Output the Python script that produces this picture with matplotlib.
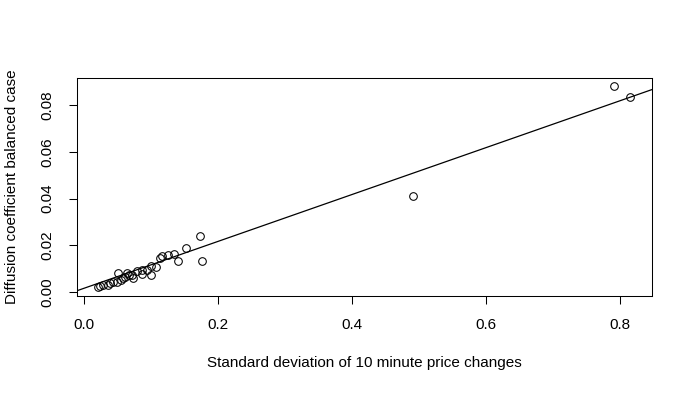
import numpy as np
import matplotlib.pyplot as plt

plt.rcParams['font.family'] = ['Liberation Sans', 'DejaVu Sans']

# standard deviation of 10 minute price changes
sd_price = [0.791, 0.815, 0.491,
            0.1736, 0.1757, 0.1527, 0.1407, 0.1339, 0.1258, 0.1169, 0.1134,
            0.1079, 0.1004, 0.1000, 0.0945, 0.0870, 0.0870, 0.0796, 0.0736,
            0.0712, 0.0672, 0.0637, 0.0612, 0.0587, 0.0548, 0.0503, 0.0488,
            0.0428, 0.0388, 0.0363, 0.0288, 0.0239, 0.0213]
# diffusion coefficient, balanced case
diff_coef = [0.0881, 0.0834, 0.0411,
             0.0240, 0.0131, 0.0188, 0.0133, 0.0161, 0.0158, 0.0154, 0.0147,
             0.0106, 0.0111, 0.0073, 0.0094, 0.0094, 0.0078, 0.0090, 0.0059,
             0.0073, 0.0073, 0.0080, 0.0065, 0.0059, 0.0051, 0.0080, 0.0044,
             0.0044, 0.0040, 0.0030, 0.0030, 0.0027, 0.0023]

# fitted line (abline)
intercept = 0.0016
slope = 0.1003

x_ticks = [0.0, 0.2, 0.4, 0.6, 0.8]
y_ticks = [0.00, 0.02, 0.04, 0.06, 0.08]

fig = plt.figure(figsize=(6.92, 3.93), dpi=100)
ax = fig.add_axes([77/692, 97/393, 575/692, 218/393])

ax.plot(sd_price, diff_coef, 'o', mfc='none', mec='black', ms=5.5, mew=0.75)

ax.set_xlim(-0.0104, 0.848)
ax.set_ylim(-0.0017, 0.0916)
ax.axline((0, intercept), slope=slope, color='black', lw=0.9)

ax.set_xticks(x_ticks)
ax.set_xticklabels(['0.0', '0.2', '0.4', '0.6', '0.8'])
ax.set_yticks(y_ticks)
ax.set_yticklabels(['0.00', '0.02', '0.04', '0.06', '0.08'], rotation=90, va='center')
ax.tick_params(length=6, width=0.75, labelsize=11, pad=10)
for s in ax.spines.values():
    s.set_linewidth(0.75)

ax.set_xlabel('Standard deviation of 10 minute price changes', fontsize=11, va='center')
ax.set_ylabel('Diffusion coefficient balanced case', fontsize=11, va='center')
ax.xaxis.set_label_coords(0.5, -0.307)
ax.yaxis.set_label_coords(-0.113, 0.5)

fig.savefig('out.png', dpi=100)
